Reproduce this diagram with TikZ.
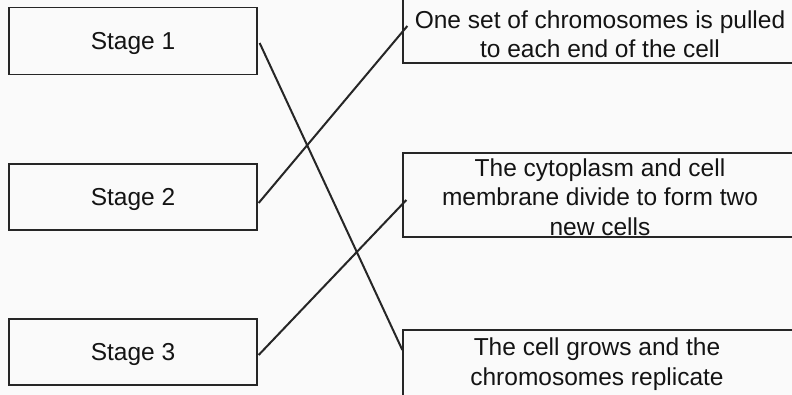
\documentclass[tikz,border=0pt]{standalone}
\usepackage{fontspec}
\setmainfont{Liberation Sans}
\begin{document}
\begin{tikzpicture}[x=1pt,y=-1pt,
  boxline/.style={draw=black!85,line width=1.3pt,rectangle,inner sep=0pt},
  stagetext/.style={font=\fontsize{24.5}{29.5}\selectfont,text=black!92,text depth=0pt},
  label/.style={font=\fontsize{24.5}{29.5}\selectfont,text=black!92,align=center},
  link/.style={draw=black!85,line width=2pt}]
  \fill[black!2] (0,0) rectangle (792,395);
  \useasboundingbox (0,0) rectangle (792,395);

  % stages on the left
  \node[boxline,stagetext,minimum width=248pt,minimum height=67pt] (s1) at (133,41) {Stage 1};
  \node[boxline,stagetext,minimum width=248pt,minimum height=66pt] (s2) at (133,197) {Stage 2};
  \node[boxline,stagetext,minimum width=248pt,minimum height=66pt] (s3) at (133,352) {Stage 3};

  % descriptions on the right
  \node[boxline,minimum width=400pt,minimum height=80pt] (d1) at (603,23) {};
  \node[label] (t1) at (600,34)
    {One set of chromosomes is pulled\\to each end of the cell};
  \node[boxline,minimum width=400pt,minimum height=84pt] (d2) at (603,195) {};
  \node[label] (t2) at (600,197)
    {The cytoplasm and cell\\membrane divide to form two\\new cells};
  \node[boxline,minimum width=400pt,minimum height=90pt] (d3) at (603,375) {};
  \node[label] (t3) at (597,364)
    {The cell grows and the\\chromosomes replicate};

  % matching lines
  \coordinate (a1) at ([xshift=2pt,yshift=-2pt]s1.east);
  \coordinate (b3) at (d3.west |- 0,350);
  \draw[link] (a1) -- (b3);
  \coordinate (a2) at ([xshift=1pt,yshift=-6pt]s2.east);
  \coordinate (b1) at ([xshift=5pt]d1.west |- 0,26);
  \draw[link] (a2) -- (b1);
  \coordinate (a3) at ([xshift=1pt,yshift=-3pt]s3.east);
  \coordinate (b2) at ([xshift=4pt]d2.west |- 0,200);
  \draw[link] (a3) -- (b2);
\end{tikzpicture}
\end{document}
